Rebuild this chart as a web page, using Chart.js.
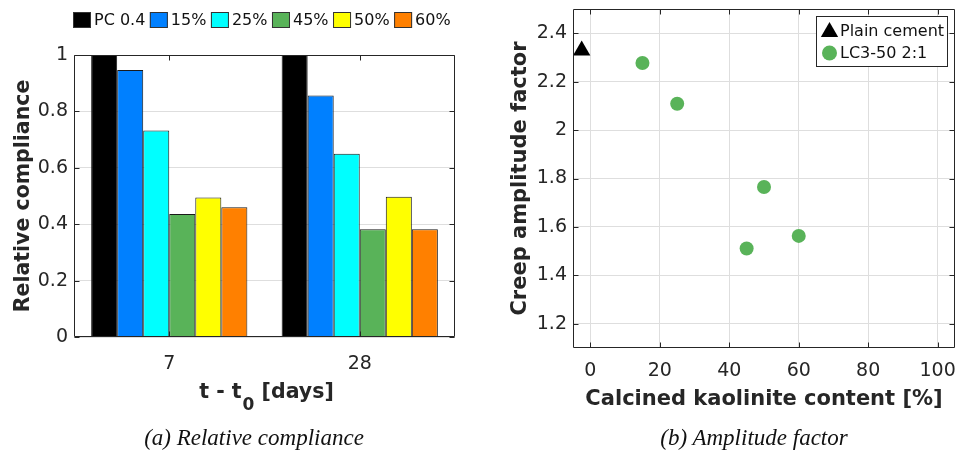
<!DOCTYPE html>
<html><head><meta charset="utf-8">
<script src="https://cdn.jsdelivr.net/npm/chart.js@4/dist/chart.umd.min.js"></script>
<style>
html,body{margin:0;padding:0;background:#fff;width:956px;height:454px;overflow:hidden;}
#wa{position:absolute;left:0;top:0;width:478px;height:454px;}
#wb{position:absolute;left:478px;top:0;width:478px;height:454px;}
.cap{position:absolute;top:425px;line-height:26px;font-family:"Liberation Serif",serif;font-style:italic;font-size:23px;color:#111;white-space:nowrap;transform:translateX(-50%);}
</style></head><body>
<div id="wa"><canvas id="ca" width="478" height="454"></canvas></div>
<div id="wb"><canvas id="cb" width="478" height="454"></canvas></div>
<div class="cap" style="left:254px">(a) Relative compliance</div>
<div class="cap" style="left:754px">(b) Amplitude factor</div>
<script>
// ---------- data: (a) relative compliance ----------
const ageCategories = ['7', '28'];
const seriesLabels = ['PC 0.4', '15%', '25%', '45%', '50%', '60%'];
const seriesColors = ['#000000', '#0080ff', '#00ffff', '#59b359', '#ffff00', '#ff8000'];
const pc04 = [1.0, 1.0];
const lc15 = [0.947, 0.856];
const lc25 = [0.732, 0.650];
const lc45 = [0.436, 0.382];
const lc50 = [0.495, 0.497];
const lc60 = [0.460, 0.382];
const yTicksA = [0, 0.2, 0.4, 0.6, 0.8, 1];
const xTitleA = ['t - t', '0', ' [days]'];

// ---------- data: (b) amplitude factor ----------
const plainLabel = 'Plain cement';
const plainX = [-2.5];
const plainY = [2.329];
const lc3Label = 'LC3-50 2:1';
const lc3X = [15, 25, 45, 50, 60];
const lc3Y = [2.277, 2.109, 1.511, 1.765, 1.563];
const xTicksB = [0, 20, 40, 60, 80, 100];
const yTicksB = [1.2, 1.4, 1.6, 1.8, 2, 2.2, 2.4];

const FONT = '"DejaVu Sans", sans-serif';
const TXT = '#262626';
const GRID = '#dedede';
const TICKSIZE = 19;
const TITLESIZE = 20.5;
const fmt = v => String(+Number(v).toFixed(2));

const framePlugin = {
  id: 'frame',
  afterDatasetsDraw(chart) {
    const ctx = chart.ctx, a = chart.chartArea;
    ctx.save();
    ctx.strokeStyle = TXT; ctx.lineWidth = 1;
    ctx.beginPath();
    const L = Math.round(a.left) + 0.5, R = Math.round(a.right) - 0.5;
    const T = Math.round(a.top) + 0.5, B = Math.round(a.bottom) - 0.5;
    ctx.rect(L, T, R - L, B - T);
    const tl = 5;
    const xs = chart.scales.x, ys = chart.scales.y;
    xs.ticks.forEach((t, i) => {
      const p = Math.round(xs.getPixelForTick(i)) + 0.5;
      ctx.moveTo(p, B); ctx.lineTo(p, B - tl);
      ctx.moveTo(p, T); ctx.lineTo(p, T + tl);
    });
    ys.ticks.forEach((t, i) => {
      const p = Math.round(ys.getPixelForTick(i)) + 0.5;
      ctx.moveTo(L, p); ctx.lineTo(L + tl, p);
      ctx.moveTo(R, p); ctx.lineTo(R - tl, p);
    });
    ctx.stroke();
    ctx.restore();
  }
};

const legendA = {
  id: 'legendA',
  afterDraw(chart) {
    const ctx = chart.ctx;
    ctx.save();
    ctx.font = '16px ' + FONT;
    ctx.textBaseline = 'middle';
    ctx.textAlign = 'left';
    let x = 73;
    chart.data.datasets.forEach(ds => {
      ctx.fillStyle = ds.backgroundColor;
      ctx.fillRect(x, 12, 18, 16);
      ctx.strokeStyle = '#333'; ctx.lineWidth = 1;
      ctx.strokeRect(x + 0.5, 12.5, 17, 15);
      ctx.fillStyle = '#111';
      ctx.fillText(ds.label, x + 21, 21);
      x += 21 + ctx.measureText(ds.label).width + 4.5;
    });
    ctx.restore();
  }
};

// x-axis title of (a) with a real subscript
const xTitlePluginA = {
  id: 'xTitleA',
  afterDraw(chart) {
    const ctx = chart.ctx, a = chart.chartArea;
    ctx.save();
    ctx.fillStyle = TXT;
    ctx.textBaseline = 'alphabetic';
    ctx.textAlign = 'left';
    const big = 'bold ' + TITLESIZE + 'px ' + FONT, small = 'bold 17px ' + FONT;
    ctx.font = big; const w1 = ctx.measureText(xTitleA[0]).width;
    const w3 = ctx.measureText(xTitleA[2]).width;
    ctx.font = small; const w2 = ctx.measureText(xTitleA[1]).width;
    const total = w1 + 1 + w2 + w3;
    let x = (a.left + a.right) / 2 + 2 - total / 2;
    ctx.font = big; ctx.fillText(xTitleA[0], x, 398); x += w1 + 1;
    ctx.font = small; ctx.fillText(xTitleA[1], x, 410); x += w2;
    ctx.font = big; ctx.fillText(xTitleA[2], x, 398);
    ctx.restore();
  }
};

const legendB = {
  id: 'legendB',
  afterDraw(chart) {
    const ctx = chart.ctx;
    ctx.save();
    ctx.fillStyle = '#fff';
    ctx.fillRect(338.5, 16.5, 131, 50);
    ctx.strokeStyle = TXT; ctx.lineWidth = 1;
    ctx.strokeRect(338.5, 16.5, 131, 50);
    ctx.font = '16px ' + FONT;
    ctx.textBaseline = 'middle';
    const rows = [31, 53];
    const radii = [10, 7.5];
    chart.data.datasets.forEach((ds, i) => {
      ctx.fillStyle = ds.backgroundColor;
      Chart.helpers.drawPoint(ctx, {pointStyle: ds.pointStyle, radius: radii[i], rotation: 0, borderWidth: 0}, 351.5, rows[i] + (i === 0 ? 1 : 0));
      ctx.fillStyle = '#111';
      ctx.fillText(ds.label, 362, rows[i] + 1);
    });
    ctx.restore();
  }
};

const seriesA = [pc04, lc15, lc25, lc45, lc50, lc60];
new Chart(document.getElementById('ca'), {
  type: 'bar',
  data: {
    labels: ageCategories,
    datasets: seriesA.map((vals, i) => ({
      label: seriesLabels[i],
      data: vals,
      backgroundColor: seriesColors[i],
      borderColor: '#1a1a1a',
      borderWidth: 1,
      borderSkipped: 'bottom',
      categoryPercentage: 0.82,
      barPercentage: 1
    }))
  },
  options: {
    responsive: false, animation: false,
    layout: {autoPadding: false, padding: {top: 55, right: 23, left: 0, bottom: 0}},
    plugins: {legend: {display: false}, tooltip: {enabled: false}},
    scales: {
      x: {
        grid: {display: false, drawTicks: false}, border: {display: false},
        ticks: {font: {family: FONT, size: TICKSIZE}, color: TXT, padding: 16},
        title: {display: false},
        afterFit(s) { s.height = 117; s.paddingLeft = 0; s.paddingRight = 0; }
      },
      y: {
        min: 0, max: 1,
        afterBuildTicks(s) { s.ticks = yTicksA.map(v => ({value: v})); },
        grid: {color: GRID, drawTicks: false}, border: {display: false},
        ticks: {font: {family: FONT, size: TICKSIZE}, color: TXT, padding: 6, callback: fmt},
        title: {display: true, text: 'Relative compliance', color: TXT,
          font: {family: FONT, size: TITLESIZE, weight: 'bold'}, padding: {top: 11, bottom: 0}},
        afterFit(s) { s.width = 74; s.paddingTop = 0; s.paddingBottom = 0; }
      }
    }
  },
  plugins: [framePlugin, legendA, xTitlePluginA]
});

new Chart(document.getElementById('cb'), {
  type: 'scatter',
  data: {
    datasets: [
      {label: plainLabel, data: plainX.map((x, i) => ({x, y: plainY[i]})),
        pointStyle: 'triangle', pointRadius: 10, backgroundColor: '#000000', borderWidth: 0},
      {label: lc3Label, data: lc3X.map((x, i) => ({x, y: lc3Y[i]})),
        pointStyle: 'circle', pointRadius: 7, backgroundColor: '#59b359', borderWidth: 0}
    ]
  },
  options: {
    responsive: false, animation: false,
    layout: {autoPadding: false, padding: {top: 9, right: 1, left: 0, bottom: 0}},
    plugins: {legend: {display: false}, tooltip: {enabled: false}},
    scales: {
      x: {
        type: 'linear', min: -5, max: 105,
        afterBuildTicks(s) { s.ticks = xTicksB.map(v => ({value: v})); },
        grid: {color: GRID, drawTicks: false}, border: {display: false},
        ticks: {font: {family: FONT, size: TICKSIZE}, color: TXT, padding: 12, callback: fmt},
        title: {display: true, text: 'Calcined kaolinite content [%]', color: TXT,
          font: {family: FONT, size: 21, weight: 'bold'}, padding: {top: 0, bottom: 42}},
        afterFit(s) { s.height = 106; s.paddingLeft = 0; s.paddingRight = 0; }
      },
      y: {
        type: 'linear', min: 1.1, max: 2.5,
        afterBuildTicks(s) { s.ticks = yTicksB.map(v => ({value: v})); },
        grid: {color: GRID, drawTicks: false}, border: {display: false},
        ticks: {font: {family: FONT, size: TICKSIZE}, color: TXT, padding: 6, callback: fmt},
        title: {display: true, text: 'Creep amplitude factor', color: TXT,
          font: {family: FONT, size: 21, weight: 'bold'}, padding: {top: 30, bottom: 0}},
        afterFit(s) { s.width = 95; s.paddingTop = 0; s.paddingBottom = 0; }
      }
    }
  },
  plugins: [framePlugin, legendB]
});
</script>
</body></html>
